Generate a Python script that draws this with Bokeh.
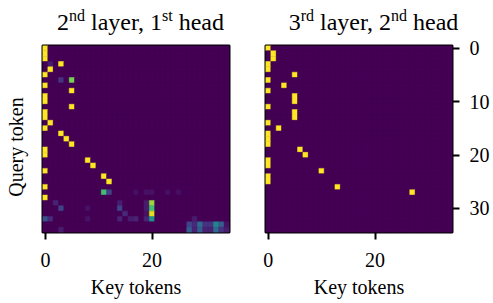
import numpy as np
from bokeh.plotting import figure
from bokeh.models import ColumnDataSource, FixedTicker, Div, LinearColorMapper
from bokeh.layouts import row, column
from bokeh.palettes import Viridis256
from bokeh.embed import file_html
from bokeh.resources import INLINE

N = 35
x_ticks = [0, 20]
y_ticks = [0, 10, 20, 30]

# 2nd layer, 1st head : (query row, key col, attention value)
left_rows = [0, 1, 2, 5, 7, 9, 10, 12, 13, 15, 19, 20, 23, 26, 28,
             3, 3, 4, 6, 6, 8, 11, 14, 16, 17, 18, 21, 22, 24, 25,
             27, 27, 27, 27, 27, 27, 27,
             29, 29, 29, 29,
             30, 30, 30, 30, 30,
             31, 31, 31,
             32, 32, 32, 32, 32, 32, 32, 32, 32,
             33, 33, 33, 33, 33, 33, 33, 33,
             34, 34, 34, 34, 34, 34, 34, 34, 34]
left_cols = [0, 0, 0, 0, 0, 0, 0, 0, 0, 0, 0, 0, 0, 0, 0,
             3, 1, 1, 5, 3, 5, 5, 1, 3, 4, 5, 8, 9, 11, 12,
             11, 12, 17, 19, 20, 23, 25,
             2, 14, 19, 20,
             3, 8, 14, 19, 20,
             15, 19, 20,
             0, 1, 8, 14, 16, 17, 19, 20, 28,
             27, 28, 29, 30, 31, 32, 33, 34,
             3, 27, 28, 29, 30, 31, 32, 33, 34]
left_vals = [1.0] * 15 + \
            [1.0, 0.08, 1.0, 0.8, 0.15, 1.0, 1.0, 1.0, 1.0, 1.0, 1.0, 1.0, 1.0, 1.0, 1.0] + \
            [0.7, 0.2, 0.04, 0.05, 0.05, 0.04, 0.04] + \
            [0.1, 0.08, 0.08, 0.85] + \
            [0.2, 0.05, 0.2, 0.08, 0.7] + \
            [0.12, 0.05, 0.95] + \
            [0.25, 0.12, 0.05, 0.1, 0.08, 0.1, 0.1, 0.5, 0.08] + \
            [0.2, 0.12, 0.35, 0.15, 0.15, 0.45, 0.3, 0.05] + \
            [0.08, 0.3, 0.1, 0.3, 0.1, 0.1, 0.35, 0.15, 0.08]

# 3rd layer, 2nd head
right_rows = [0, 3, 4, 6, 8, 11, 14, 16, 17, 18, 21, 22, 24, 25,
              1, 2, 5, 9, 10, 12, 13, 7, 15, 19, 20, 23, 26, 27]
right_cols = [0, 0, 0, 0, 0, 0, 0, 0, 0, 0, 0, 0, 0, 0,
              1, 1, 5, 5, 5, 5, 5, 3, 2, 6, 7, 10, 13, 27]
right_vals = [1.0] * 28

FONT = "Liberation Serif, Times New Roman, DejaVu Serif, serif"
CSS_FONT = "'Liberation Serif','Times New Roman','DejaVu Serif',serif"
mapper = LinearColorMapper(palette=Viridis256, low=0, high=1)


def matrix(rows, cols, vals):
    m = np.zeros((N, N))
    for r, c, v in zip(rows, cols, vals):
        m[r, c] = v
    return m


def make_fig(rows, cols, vals, left):
    m = matrix(rows, cols, vals)
    yy, xx = np.mgrid[0:N, 0:N]
    src = ColumnDataSource(dict(x=xx.ravel(), y=yy.ravel(), v=m.ravel()))
    kw = dict(frame_width=187, frame_height=187,
              x_range=(-0.5, N - 0.5), y_range=(N - 0.5, -0.5),
              output_backend="svg", toolbar_location=None,
              min_border_top=7, min_border_bottom=0)
    if left:
        p = figure(min_border_left=2, min_border_right=18, **kw)
    else:
        p = figure(min_border_left=18, min_border_right=0,
                   y_axis_location="right", **kw)
    p.rect(x="x", y="y", width=1, height=1, source=src,
           fill_color={"field": "v", "transform": mapper},
           line_color={"field": "v", "transform": mapper}, line_width=0.5)
    p.background_fill_color = "#440154"
    p.border_fill_color = "white"
    p.grid.visible = False
    p.outline_line_color = "black"
    p.outline_line_width = 2
    for ax in p.axis:
        ax.axis_line_color = None
        ax.major_tick_line_color = "black"
        ax.major_tick_line_width = 2
        ax.major_tick_out = 7
        ax.major_tick_in = 0
        ax.minor_tick_line_color = None
        ax.major_label_text_font = FONT
        ax.major_label_text_font_size = "20px"
        ax.major_label_text_color = "black"
        ax.axis_label_text_font = FONT
        ax.axis_label_text_font_size = "20px"
        ax.axis_label_text_font_style = "normal"
        ax.axis_label_text_color = "black"
    p.xaxis.ticker = FixedTicker(ticks=x_ticks)
    p.xaxis.major_label_standoff = 13
    p.xaxis.axis_label = "Key tokens"
    p.xaxis.axis_label_standoff = 6
    if left:
        p.yaxis.visible = False
    else:
        p.yaxis.ticker = FixedTicker(ticks=y_ticks)
        p.yaxis.major_label_standoff = 10
    return p


p1 = make_fig(left_rows, left_cols, left_vals, True)
p2 = make_fig(right_rows, right_cols, right_vals, False)

TXT = f"font-family:{CSS_FONT};color:#000;"
SUP = TXT + "font-size:16px;vertical-align:0;position:relative;top:-9px;line-height:0"


def title_div(base1, sup1, mid, sup2, tail, width, margin_left):
    html = (f'<div style="width:187px;margin-left:{margin_left}px;margin-top:-1px;'
            f'text-align:center;{TXT}font-size:24px;line-height:24px;white-space:nowrap">'
            f'<span style="{TXT}">{base1}</span><span style="{SUP}">{sup1}</span>'
            f'<span style="{TXT}">{mid}</span>'
            f'<span style="{SUP}">{sup2}</span><span style="{TXT}">{tail}</span></div>')
    return Div(text=html, width=width, height=28,
               styles={"font-family": CSS_FONT, "font-size": "24px", "color": "#000"})


d1 = title_div("2", "nd", " layer, 1", "st", " head", 207, 2)
d2 = title_div("3", "rd", " layer, 2", "nd", " head", 240, 18)

qdiv = Div(text=(f'<div style="position:absolute;left:11px;top:142px;'
                 f'transform:translate(-50%,-50%) rotate(-90deg);white-space:nowrap;'
                 f'{TXT}font-size:20px;line-height:20px">Query token</div>'),
           width=30, height=288, styles={"font-family": CSS_FONT})

layout = row(qdiv, column(row(d1, d2, spacing=0), row(p1, p2, spacing=0), spacing=0), spacing=0)

open("out.html", "w").write(file_html(layout, INLINE))
